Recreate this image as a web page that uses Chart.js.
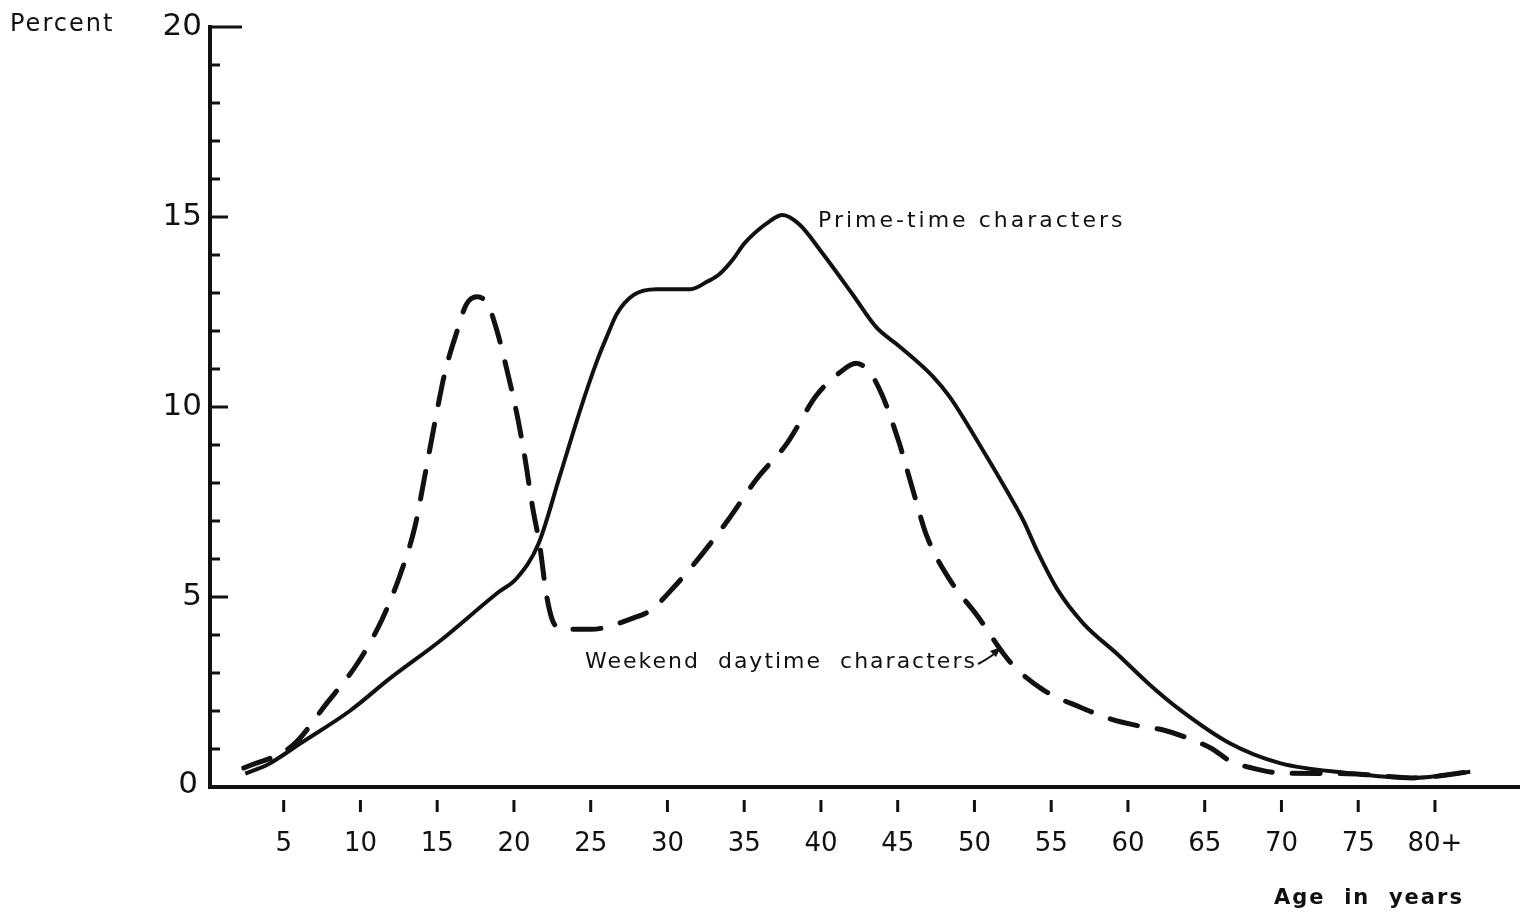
<!DOCTYPE html>
<html lang="en">
<head>
    <meta charset="UTF-8">
    <title>Age distribution of TV characters</title>
    <style>
        body {
            margin: 0;
            padding: 0;
            background-color: #fff;
        }

        .chart-box {
            width: 1520px;
            height: 914px;
            position: relative;
        }
    </style>
</head>
<body>
<div class="chart-box">
    <canvas id="ageChart" width="1520" height="914"></canvas>
</div>
<script src="https://cdn.jsdelivr.net/npm/chart.js"></script>
<script>
    // Prime-time characters (solid line), age in years vs percent
    const primeAges = [2.5, 4, 6.1, 9.3, 11.9, 15.2, 18.9, 20.2, 21.6, 23.0, 24.3, 25.4, 26.1, 26.7, 27.8, 29.3, 31.5, 32.6, 33.4, 34.3, 35.0, 36.7, 37.5, 38.6, 40.0, 42.0, 43.6, 45.1, 47.3, 48.4, 50.2, 52.1, 53.2, 54.1, 55.4, 57.1, 59.3, 61.4, 63.4, 66.6, 69.9, 74.3, 78.6, 82.3];
    const primeValues = [0.35, 0.6, 1.15, 2.0, 2.85, 3.85, 5.1, 5.5, 6.4, 8.2, 9.9, 11.2, 11.9, 12.45, 12.95, 13.1, 13.1, 13.3, 13.5, 13.9, 14.3, 14.9, 15.05, 14.8, 14.1, 13.0, 12.1, 11.6, 10.8, 10.26, 9.1, 7.8, 7.0, 6.2, 5.2, 4.3, 3.5, 2.7, 2.03, 1.16, 0.63, 0.37, 0.24, 0.4];

    // Weekend daytime characters (dashed line)
    const weekendAges = [2.4, 5.6, 7.8, 9.8, 11.4, 12.6, 13.55, 14.2, 14.85, 15.5, 16.3, 16.9, 17.6, 18.3, 18.9, 19.5, 20.2, 20.7, 21.2, 21.7, 22.1, 22.5, 23.2, 25.0, 27.8, 28.9, 30.4, 32.1, 33.9, 35.8, 37.8, 39.7, 41.2, 42.3, 43.2, 44.0, 45.1, 46.0, 46.9, 48.4, 50.2, 52.3, 54.5, 56.9, 58.8, 60.8, 62.3, 64.2, 65.5, 66.6, 68.6, 69.9, 74.3, 78.6, 82.3];
    const weekendValues = [0.5, 1.1, 2.2, 3.25, 4.4, 5.6, 6.85, 8.2, 9.6, 10.9, 12.0, 12.7, 12.9, 12.7, 12.0, 11.05, 9.8, 8.7, 7.4, 6.3, 5.1, 4.4, 4.15, 4.15, 4.45, 4.65, 5.25, 6.05, 7.0, 8.1, 9.05, 10.3, 10.9, 11.15, 10.9, 10.3, 9.05, 7.8, 6.6, 5.45, 4.5, 3.3, 2.55, 2.1, 1.8, 1.6, 1.5, 1.24, 1.0, 0.7, 0.45, 0.37, 0.35, 0.24, 0.4];

    const yTickValues = [0, 5, 10, 15, 20];
    const yMinorTicks = [1, 2, 3, 4, 6, 7, 8, 9, 11, 12, 13, 14, 16, 17, 18, 19];
    const xTickValues = [5, 10, 15, 20, 25, 30, 35, 40, 45, 50, 55, 60, 65, 70, 75, 80];
    const xTickLabels = ['5', '10', '15', '20', '25', '30', '35', '40', '45', '50', '55', '60', '65', '70', '75', '80+'];

    const ink = '#111';
    const font = '"DejaVu Sans", sans-serif';

    function toPoints(xs, ys) {
        return xs.map((x, i) => ({x: x, y: ys[i]}));
    }

    // Axes, ticks and text labels drawn the old-fashioned way, like the printed figure
    const paperAxes = {
        id: 'paperAxes',
        afterDraw(chart) {
            const ctx = chart.ctx;
            const xs = chart.scales.x;
            const ys = chart.scales.y;
            const left = xs.getPixelForValue(xs.min);
            const bottom = ys.getPixelForValue(0);
            const top = ys.getPixelForValue(20);

            ctx.save();
            ctx.strokeStyle = ink;
            ctx.fillStyle = ink;
            ctx.lineCap = 'butt';

            // axis lines
            ctx.lineWidth = 4;
            ctx.beginPath();
            ctx.moveTo(left, top - 2);
            ctx.lineTo(left, bottom);
            ctx.lineTo(chart.width, bottom);
            ctx.stroke();

            // y ticks point into the plot
            ctx.lineWidth = 3;
            yMinorTicks.forEach(v => {
                const py = ys.getPixelForValue(v);
                ctx.beginPath();
                ctx.moveTo(left, py);
                ctx.lineTo(left + 10, py);
                ctx.stroke();
            });
            yTickValues.forEach(v => {
                if (v === 0) return;
                const py = ys.getPixelForValue(v);
                ctx.beginPath();
                ctx.moveTo(left, py);
                ctx.lineTo(left + (v === 20 ? 32 : 18), py);
                ctx.stroke();
            });

            ctx.font = '31px ' + font;
            ctx.textAlign = 'right';
            ctx.textBaseline = 'middle';
            yTickValues.forEach(v => {
                const py = ys.getPixelForValue(v);
                ctx.fillText(String(v), v === 0 ? 198 : 202, py + (v === 0 ? -2 : 0));
            });

            // x ticks sit below the axis, detached
            ctx.lineWidth = 3;
            xTickValues.forEach(v => {
                const px = xs.getPixelForValue(v);
                ctx.beginPath();
                ctx.moveTo(px, bottom + 13);
                ctx.lineTo(px, bottom + 25);
                ctx.stroke();
            });
            ctx.font = '26px ' + font;
            ctx.textAlign = 'center';
            xTickValues.forEach((v, i) => {
                ctx.fillText(xTickLabels[i], xs.getPixelForValue(v), bottom + 57);
            });

            // titles and series labels
            ctx.textAlign = 'left';
            ctx.font = '24px ' + font;
            ctx.letterSpacing = '2px';
            ctx.fillText('Percent', 10, 25);

            ctx.font = '22px ' + font;
            ctx.letterSpacing = '3px';
            ctx.fillText('Prime-time characters', 818, 221);
            ctx.letterSpacing = '2px';
            ctx.fillText('Weekend  daytime  characters', 585, 662);

            // little arrow pointing at the dashed curve
            ctx.lineWidth = 2;
            ctx.beginPath();
            ctx.moveTo(978, 664);
            ctx.quadraticCurveTo(986, 660, 997, 652);
            ctx.stroke();
            ctx.beginPath();
            ctx.moveTo(1001, 647);
            ctx.lineTo(990, 651);
            ctx.lineTo(996, 657);
            ctx.closePath();
            ctx.fill();

            ctx.font = 'bold 21px ' + font;
            ctx.letterSpacing = '2px';
            ctx.fillText('Age  in  years', 1274, 899);
            ctx.restore();
        }
    };

    new Chart(document.getElementById('ageChart').getContext('2d'), {
        type: 'line',
        data: {
            datasets: [{
                label: 'Prime-time characters',
                data: toPoints(primeAges, primeValues),
                borderColor: ink,
                borderWidth: 4,
                pointRadius: 0,
                cubicInterpolationMode: 'monotone',
                fill: false
            }, {
                label: 'Weekend daytime characters',
                data: toPoints(weekendAges, weekendValues),
                borderColor: ink,
                borderWidth: 5,
                borderDash: [28, 20],
                borderCapStyle: 'round',
                pointRadius: 0,
                cubicInterpolationMode: 'monotone',
                fill: false
            }]
        },
        options: {
            responsive: false,
            animation: false,
            layout: {
                padding: {left: 210, right: 0, top: 27, bottom: 127}
            },
            plugins: {
                legend: {display: false},
                tooltip: {enabled: false}
            },
            scales: {
                x: {
                    type: 'linear',
                    min: 0.2,
                    max: 85.54,
                    display: false
                },
                y: {
                    min: 0,
                    max: 20,
                    display: false
                }
            }
        },
        plugins: [paperAxes]
    });
</script>
</body>
</html>
